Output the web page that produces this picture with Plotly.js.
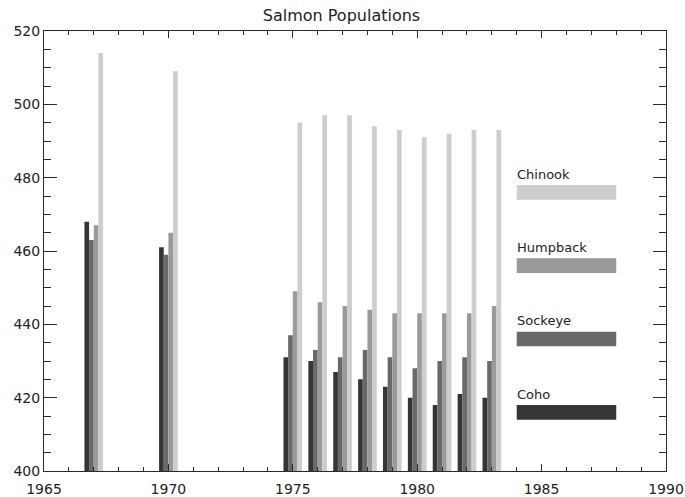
<!DOCTYPE html>
<html>
<head>
<meta charset="utf-8">
<script src="https://cdn.plot.ly/plotly-3.0.1.min.js"></script>
<style>
  html, body { margin: 0; padding: 0; background: #fff; }
  #chart { width: 685px; height: 497px; }
</style>
</head>
<body>
<div id="chart"></div>
<script>
// ---- data ----
const years     = [1967, 1970, 1975, 1976, 1977, 1978, 1979, 1980, 1981, 1982, 1983];
const coho      = [468, 461, 431, 430, 427, 425, 423, 420, 418, 421, 420];
const sockeye   = [463, 459, 437, 433, 431, 433, 431, 428, 430, 431, 430];
const humpback  = [467, 465, 449, 446, 445, 444, 443, 443, 443, 443, 445];
const chinook   = [514, 509, 495, 497, 497, 494, 493, 491, 492, 493, 493];
const seriesNames = ['Coho', 'Sockeye', 'Humpback', 'Chinook'];
const seriesValues = [coho, sockeye, humpback, chinook];
const seriesColors = ['#353535', '#696969', '#9a9a9a', '#cdcdcd'];

// legend placement (data coordinates), top to bottom: Chinook .. Coho
const legendOrder = [3, 2, 1, 0];
const legendLabelY = [481, 461, 441, 421];
const legendBoxY = [[474, 478], [454, 458], [434, 438], [414, 418]];
const legendX = [1984, 1988];

const FONT = 'DejaVu Sans, sans-serif';

const traces = seriesNames.map((n, i) => ({
  type: 'bar',
  name: n,
  x: years,
  y: seriesValues[i],
  marker: { color: seriesColors[i], line: { width: 0 } },
  hoverinfo: 'skip'
}));

const shapes = [];
const annotations = [];
legendOrder.forEach((si, k) => {
  shapes.push({
    type: 'rect', xref: 'x', yref: 'y',
    x0: legendX[0], x1: legendX[1],
    y0: legendBoxY[k][0], y1: legendBoxY[k][1],
    fillcolor: seriesColors[si], line: { width: 0 }
  });
  annotations.push({
    xref: 'x', yref: 'y', x: legendX[0], y: legendLabelY[k],
    xanchor: 'left', yanchor: 'middle', showarrow: false, xshift: -2,
    text: seriesNames[si],
    font: { family: FONT, size: 13, color: '#222' }
  });
});

const axisCommon = {
  showline: true, linecolor: '#2a2a2a', linewidth: 1,
  mirror: 'ticks', ticks: 'inside', tickcolor: '#2a2a2a', tickwidth: 1,
  showgrid: false, zeroline: false,
  tickfont: { family: FONT, size: 14, color: '#222' },
  fixedrange: true
};

const layout = {
  width: 685, height: 497,
  margin: { l: 44, r: 19, t: 31, b: 26, pad: 0 },
  paper_bgcolor: '#fff', plot_bgcolor: '#fff',
  showlegend: false,
  barmode: 'group', bargap: 0.25, bargroupgap: 0,
  title: {
    text: 'Salmon Populations',
    font: { family: FONT, size: 16, color: '#222' },
    xref: 'container', x: 0.4985, xanchor: 'center',
    yref: 'container', y: 1 - 15 / 497, yanchor: 'middle'
  },
  xaxis: Object.assign({}, axisCommon, {
    range: [1965, 1990], tickmode: 'linear', tick0: 1965, dtick: 5, ticklen: 7,
    ticklabelstandoff: 5,
    minor: { dtick: 1, ticklen: 4, ticks: 'inside', tickcolor: '#2a2a2a', showgrid: false }
  }),
  yaxis: Object.assign({}, axisCommon, {
    range: [400, 520], tickmode: 'linear', tick0: 400, dtick: 20, ticklen: 13,
    minor: { dtick: 5, ticklen: 7, ticks: 'inside', tickcolor: '#2a2a2a', showgrid: false }
  }),
  shapes: shapes,
  annotations: annotations
};

Plotly.newPlot('chart', traces, layout, { staticPlot: true, displayModeBar: false });
</script>
</body>
</html>
